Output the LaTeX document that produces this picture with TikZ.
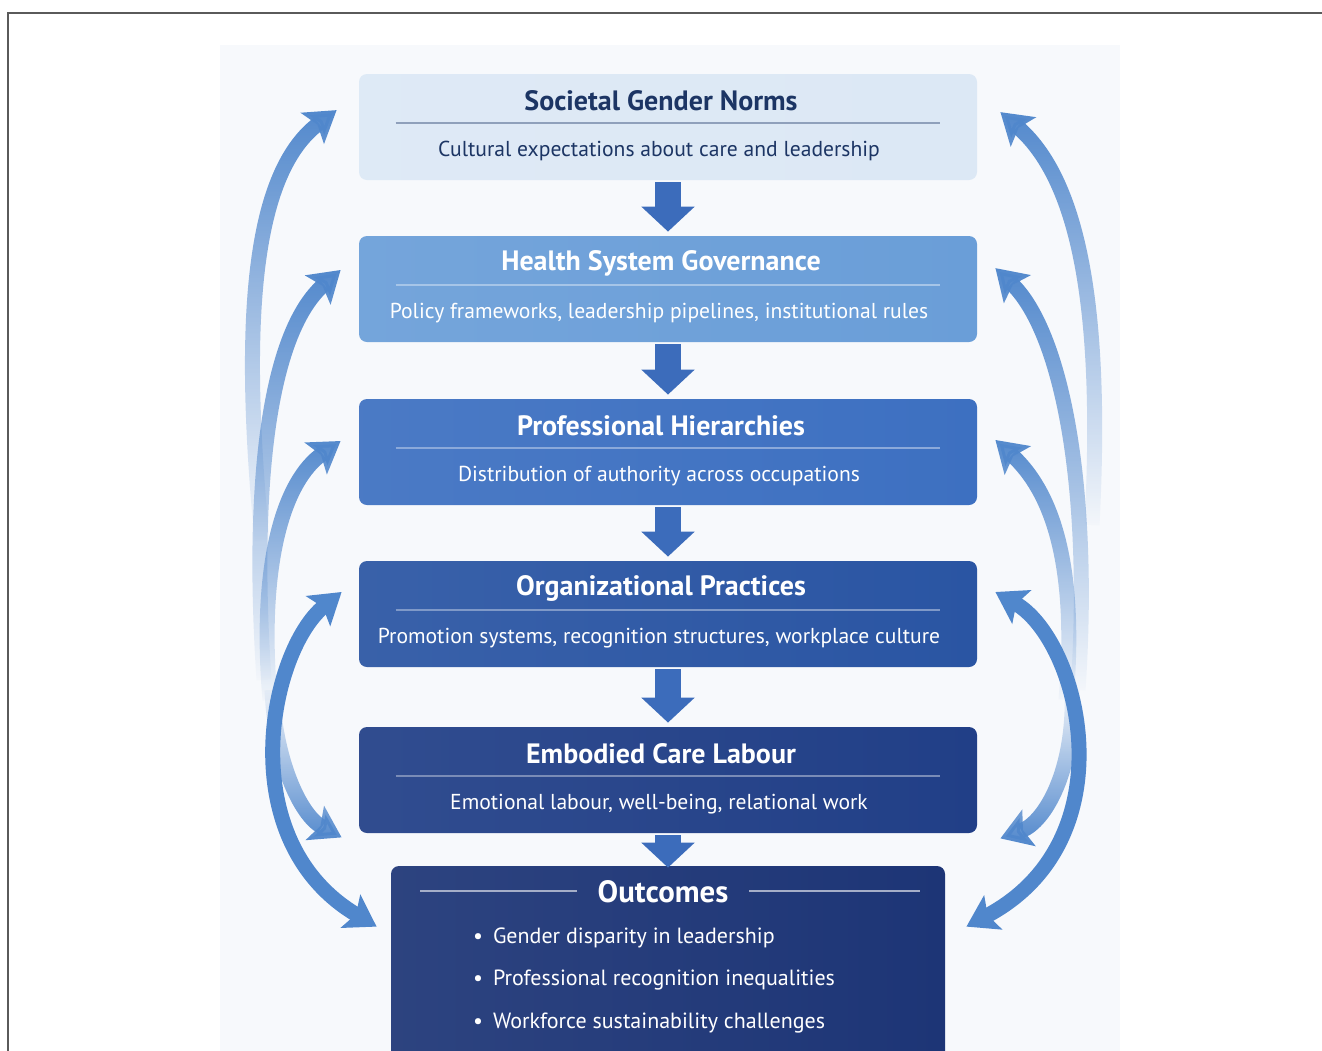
\documentclass[tikz,border=0pt]{standalone}
\usepackage{fontspec}
\setmainfont{PT Sans}
\usetikzlibrary{arrows.meta,calc,fadings,positioning}

\definecolor{framegray}{HTML}{5A5A5A}
\definecolor{panel}{HTML}{F7F9FC}
\definecolor{layerA}{HTML}{DCE8F5}
\definecolor{layerB}{HTML}{6A9ED8}
\definecolor{layerC}{HTML}{3D70C1}
\definecolor{layerD}{HTML}{2A55A3}
\definecolor{layerE}{HTML}{213F87}
\definecolor{layerF}{HTML}{1D3576}
\definecolor{inkdark}{HTML}{1C3564}
\definecolor{flowblue}{HTML}{3C6CBB}
\definecolor{arcblue}{HTML}{5087CC}

% arcs that fade out towards their tail
\tikzfading[name=tail low, top color=transparent!0, bottom color=transparent!100]
\tikzfading[name=tail high, top color=transparent!100, bottom color=transparent!0]

\tikzset{
  tier/.style={rounded corners=4pt, minimum width=309pt, minimum height=53pt,
    left color=#1!93!white, right color=#1, inner sep=0pt},
  headtext/.style={font=\bfseries\fontsize{14}{16}\selectfont},
  subtext/.style={font=\fontsize{10.8}{13}\selectfont},
  divider/.style={line width=0.6pt},
  downflow/.style={draw=flowblue, line width=13pt,
    -{Triangle[width=26pt,length=12.5pt]}, shorten <=1pt, shorten >=2pt},
  backarc/.style={draw=arcblue, line width=7.5pt,
    -{Stealth[inset=3pt,width=19pt,length=15pt]}},
  botharc/.style={draw=arcblue, line width=7.5pt,
    {Stealth[inset=3pt,width=19pt,length=15pt]}-{Stealth[inset=3pt,width=19pt,length=15pt]}},
}

\begin{document}
\begin{tikzpicture}[x=0.5pt, y=-0.5pt]
\useasboundingbox (0,0) rectangle (1322,1050);
\clip (0,0) rectangle (1322,1050);

\fill[panel] (220,45) rectangle (1120,1060);
\draw[framegray, line width=1pt] (8,1060) -- (8,13) -- (1330,13);

% stacked layers
\foreach \name/\yy/\col/\ink/\head/\sub in {
    soc/127/layerA/inkdark/{Societal Gender Norms}/{Cultural expectations about care and leadership},
    gov/289/layerB/white/{Health System Governance}/{Policy frameworks, leadership pipelines, institutional rules},
    hier/452/layerC/white/{Professional Hierarchies}/{Distribution of authority across occupations},
    org/614/layerD/white/{Organizational Practices}/{Promotion systems, recognition structures, workplace culture},
    labour/780/layerE/white/{Embodied Care Labour}/{Emotional labour, well-being, relational work}} {
    \node[tier=\col] (\name) at (668,\yy) {};
    \node[headtext, text=\ink] (\name-head) at ($(\name.center)+(-7,-26)$) {\head};
    \draw[divider, draw=\ink!40!\col] ($(\name.west)+(37,-4)$) -- ($(\name.east)+(-37,-4)$);
    \node[subtext, text=\ink] (\name-sub) at ($(\name.center)+(-9,24)$) {\sub};
}

% outcomes
\node[tier=layerF, minimum width=277pt, minimum height=110pt] (out) at (668,976) {};
\node[headtext, text=white, font=\bfseries\fontsize{15.4}{18}\selectfont] (out-head) at (663,892) {Outcomes};
\draw[divider, draw=white!60!layerF] ($(out-head.west)+(-14,-1)$) -- +(-157,0);
\draw[divider, draw=white!60!layerF] ($(out-head.east)+(14,-1)$) -- +(171,0);
\foreach \yy/\item in {938/Gender disparity in leadership,
    980/Professional recognition inequalities,
    1023/Workforce sustainability challenges}
  \node[subtext, text=white, anchor=west, font=\fontsize{11}{13}\selectfont] (out-\yy) at (466,\yy) {•\hspace{5pt}\item};

% downward flow
\foreach \a/\b in {soc/gov, gov/hier, hier/org, org/labour}
  \draw[downflow] (\a.south) -- (\b.north);
\draw[downflow, shorten >=-1pt] (labour.south) -- (out.north);

% feedback arcs, left
\coordinate (tailL1) at (262,540);
\coordinate (tailL2) at (264,680);
\coordinate (tailL3) at (270,700);
\coordinate (tailL5) at (272,690);
\draw[backarc, path fading=tail low] (tailL1) .. controls (242,330) and (250,175) .. ($(soc.west)+(-22,-17)$);
\draw[backarc, path fading=tail low] (tailL2) .. controls (250,470) and (272,330) .. ($(gov.west)+(-18,-19)$);
\draw[backarc, path fading=tail low] (tailL3) .. controls (258,560) and (285,480) .. ($(hier.west)+(-18,-11)$);
\draw[backarc, path fading=tail high] (tailL5) .. controls (275,760) and (300,815) .. ($(labour.south west)+(-17,4)$);
\draw[botharc] ($(org.west)+(-17,-22)$) .. controls (270,650) and (230,840) .. ($(out.north west)+(-14,61)$);

% feedback arcs, right
\coordinate (tailR1) at (1092,525);
\coordinate (tailR2) at (1078,690);
\coordinate (tailR3) at (1066,700);
\coordinate (tailR5) at (1072,690);
\draw[backarc, path fading=tail low] (tailR1) .. controls (1102,330) and (1085,185) .. ($(soc.east)+(23,-15)$);
\draw[backarc, path fading=tail low] (tailR2) .. controls (1092,480) and (1060,330) .. ($(gov.east)+(18,-21)$);
\draw[backarc, path fading=tail low] (tailR3) .. controls (1078,560) and (1050,490) .. ($(hier.east)+(18,-12)$);
\draw[backarc, path fading=tail high] (tailR5) .. controls (1075,770) and (1045,822) .. ($(labour.south east)+(23,5)$);
\draw[botharc] ($(org.east)+(18,-22)$) .. controls (1080,640) and (1130,840) .. ($(out.north east)+(21,61)$);

\end{tikzpicture}
\end{document}
